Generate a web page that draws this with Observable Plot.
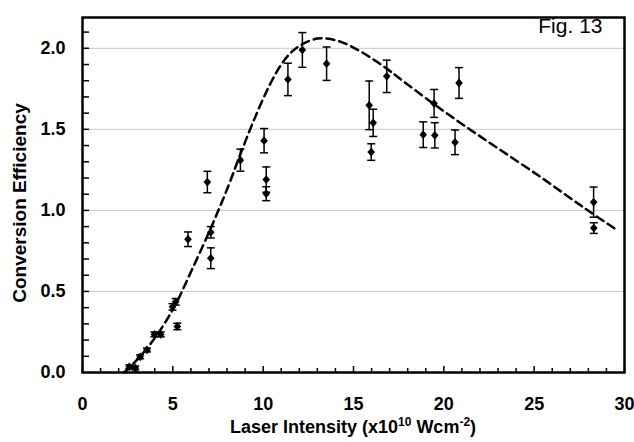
<!DOCTYPE html>
<html>
<head>
<meta charset="utf-8">
<script src="https://cdn.jsdelivr.net/npm/d3@7"></script>
<script src="https://cdn.jsdelivr.net/npm/@observablehq/plot@0.6"></script>
<style>
  html, body { margin: 0; padding: 0; background: white; }
  #chart { width: 634px; height: 442px; }
</style>
</head>
<body>
<div id="chart"></div>
<script>
// Measured points
const intensity = [2.59, 2.92, 3.19, 3.57, 3.98, 4.33, 4.98, 5.16, 5.25, 5.84, 6.91, 7.10, 7.10, 8.74, 10.05, 10.17, 10.17, 11.37, 12.17, 13.51, 15.87, 16.09, 15.98, 16.84, 18.86, 19.50, 19.46, 20.62, 20.84, 28.29, 28.30];
const efficiency = [0.035, 0.028, 0.097, 0.139, 0.235, 0.235, 0.405, 0.436, 0.284, 0.822, 1.175, 0.865, 0.705, 1.31, 1.43, 1.19, 1.103, 1.808, 1.99, 1.905, 1.648, 1.54, 1.36, 1.827, 1.467, 1.463, 1.66, 1.42, 1.786, 1.051, 0.891];
const errorBar = [0.012, 0.012, 0.012, 0.012, 0.015, 0.015, 0.02, 0.02, 0.02, 0.045, 0.066, 0.035, 0.064, 0.068, 0.075, 0.078, 0.043, 0.1, 0.107, 0.103, 0.15, 0.084, 0.051, 0.1, 0.079, 0.078, 0.086, 0.076, 0.095, 0.093, 0.033];

// Dashed model curve
const curveX = [2.3, 3.2, 4.3, 5.15, 6.0, 7.1, 8.0, 8.75, 9.5, 10.3, 11.0, 11.6, 12.25, 13.0, 13.5, 14.3, 15.4, 16.9, 17.6, 19.4, 21.3, 23.1, 25.3, 27.2, 28.1, 29.5];
const curveY = [0.0, 0.10, 0.26, 0.42, 0.62, 0.89, 1.13, 1.35, 1.56, 1.76, 1.90, 1.98, 2.03, 2.06, 2.06, 2.04, 1.98, 1.87, 1.81, 1.66, 1.51, 1.375, 1.21, 1.06, 0.99, 0.885];

// Tick values
const xMajorTicks = [0, 5, 10, 15, 20, 25, 30];
const xMinorTicks = d3.range(1, 30).filter(v => v % 5 !== 0);
const yMajorTicks = [0, 0.5, 1.0, 1.5, 2.0];
const yMinorTicks = d3.range(1, 22).map(v => v / 10);
const gridTicks = [0.5, 1.0, 1.5, 2.0];

const points = intensity.map((x, i) => ({x, y: efficiency[i], e: errorBar[i]}));
const curve = curveX.map((x, i) => ({x, y: curveY[i]}));

const diamond = {draw(ctx) { ctx.moveTo(0, -4.4); ctx.lineTo(3.8, 0); ctx.lineTo(0, 4.4); ctx.lineTo(-3.8, 0); ctx.closePath(); }};
const cap = {draw(ctx) { ctx.moveTo(-4, 0); ctx.lineTo(4, 0); }};
const yTick = {draw(ctx) { ctx.moveTo(0, 0); ctx.lineTo(6.5, 0); }};
const xTickMinor = {draw(ctx) { ctx.moveTo(0, 0); ctx.lineTo(0, -4.5); }};
const xTickMajor = {draw(ctx) { ctx.moveTo(0, 0); ctx.lineTo(0, -6.5); }};

const chart = Plot.plot({
  width: 634,
  height: 442,
  marginLeft: 82,
  marginRight: 10,
  marginTop: 17,
  marginBottom: 70,
  x: {domain: [0, 30]},
  y: {domain: [0, 2.19]},
  style: {fontFamily: "'Liberation Sans', Arial, sans-serif", background: "white", color: "black", overflow: "visible"},
  marks: [
    Plot.gridY(gridTicks, {stroke: "#c8c8c8", strokeOpacity: 1, strokeWidth: 1}),
    Plot.axisX(xMajorTicks, {tickSize: 0, tickPadding: 25, fontSize: 18, fontWeight: "bold", label: null}),
    Plot.axisY(yMajorTicks, {tickSize: 0, tickPadding: 17, fontSize: 18, fontWeight: "bold", label: null, tickFormat: d => d.toFixed(1)}),
    Plot.dot(yMinorTicks, {x: () => 0, y: d => d, symbol: yTick, stroke: "black", strokeWidth: 1.5, fill: "none"}),
    Plot.dot(xMinorTicks, {x: d => d, y: () => 0, symbol: xTickMinor, stroke: "black", strokeWidth: 1.5, fill: "none"}),
    Plot.dot(xMajorTicks, {x: d => d, y: () => 0, symbol: xTickMajor, stroke: "black", strokeWidth: 1.5, fill: "none"}),
    Plot.line(curve, {x: "x", y: "y", curve: "catmull-rom", stroke: "black", strokeWidth: 2.5, strokeDasharray: "8,5"}),
    Plot.ruleX(points, {x: "x", y1: d => d.y - d.e, y2: d => d.y + d.e, stroke: "black", strokeWidth: 1.5}),
    Plot.dot(points, {x: "x", y: d => d.y - d.e, symbol: cap, stroke: "black", strokeWidth: 1.5, fill: "none"}),
    Plot.dot(points, {x: "x", y: d => d.y + d.e, symbol: cap, stroke: "black", strokeWidth: 1.5, fill: "none"}),
    Plot.dot(points, {x: "x", y: "y", symbol: diamond, fill: "black", stroke: "none"}),
    Plot.frame({stroke: "black", strokeWidth: 2.5}),
    Plot.text(["Conversion Efficiency"], {frameAnchor: "left", textAnchor: "middle", lineAnchor: "middle", rotate: -90, dx: -63, dy: 8, fontSize: 19, fontWeight: "bold", text: d => d}),
    Plot.text(["Fig. 13"], {frameAnchor: "top-right", textAnchor: "end", lineAnchor: "top", dx: -22, dy: 1, fontSize: 21, text: d => d})
  ]
});

document.getElementById("chart").appendChild(chart);

// X-axis title with superscripts
const svg = d3.select(chart);
const t = svg.append("text")
  .attr("x", 353)
  .attr("y", 433)
  .attr("text-anchor", "middle")
  .attr("font-family", "'Liberation Sans', Arial, sans-serif")
  .attr("font-weight", "bold")
  .attr("font-size", 18)
  .attr("fill", "black");
t.append("tspan").text("Laser Intensity (x10");
t.append("tspan").attr("dy", -7).attr("font-size", 12).text("10");
t.append("tspan").attr("dy", 7).text(" Wcm");
t.append("tspan").attr("dy", -7).attr("font-size", 12).text("-2");
t.append("tspan").attr("dy", 7).text(")");
</script>
</body>
</html>
